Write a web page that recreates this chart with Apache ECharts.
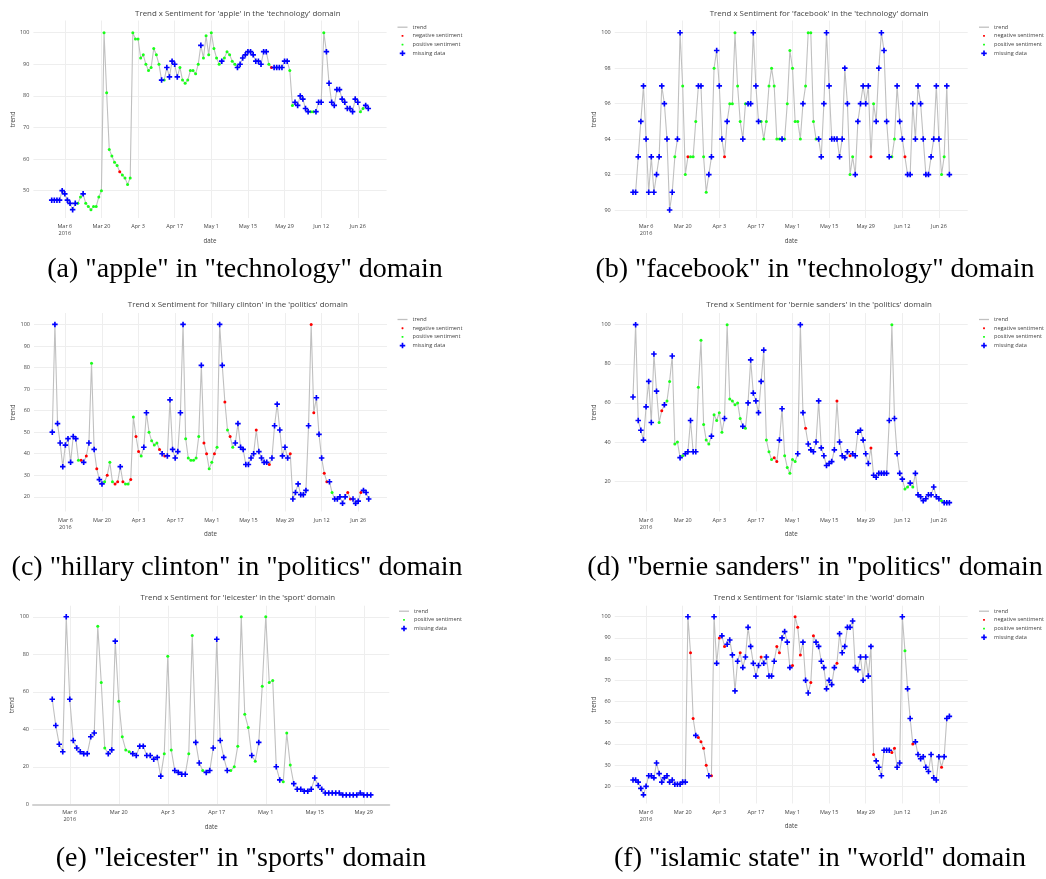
<!DOCTYPE html>
<html>
<head>
<meta charset="utf-8">
<script src="https://cdn.jsdelivr.net/npm/echarts@6/dist/echarts.min.js"></script>
<style>
  html, body { margin: 0; background: #fff; }
  #chart { width: 1046px; height: 879px; }
</style>
</head>
<body>
<div id="chart"></div>
<script>
// daily values, 1 Mar 2016 onwards; x is counted in days from 6 Mar 2016
const firstDay = -5;
const MONTHS = ['Jan', 'Feb', 'Mar', 'Apr', 'May', 'Jun', 'Jul'];

// b = missing data, g = positive sentiment, r = negative sentiment
const appleTrend = [47,47,47,47,50,49,47,46,44,46, 46,48,49,46,45,44,45,45,48,50,
  100,81,63,61,59,58,56,55,54,52, 54,100,98,98,92,93,90,88,89,95, 93,90,85,85,89,86,91,90,86,89,
  85,84,85,88,88,87,90,96,92,99, 93,100,95,92,90,91,92,94,93,91, 90,89,90,92,93,94,94,93,91,91,
  90,94,94,90,89,89,89,89,89,91, 91,88,77,78,77,80,79,76,75,75, 75,75,78,78,100,94,84,78,77,82,
  82,79,78,76,76,75,79,78,75,76, 77,76];
const appleMood = ['bbbbbbbbbb','ggbggggggg','ggggggrggg','gggggggggg','ggbgbbbbbg','gggggggbgg',
  'gggggbgggg','gbbbbbbbbb','bbbgrbbbbb','bggbbbbbbg','gbbbgbbbbb','bbbbbbbbgg','bb'].join('');

const facebookTrend = [91,91,93,95,97,94,91,93,91,92, 93,97,96,94,90,91,93,94,100,97,
  92,93,93,93,95,97,97,93,91,92, 93,98,99,97,94,93,95,96,96,100, 97,95,94,96,96,96,100,97,95,95,
  94,95,97,98,97,94,94,94,94,96, 99,98,95,95,94,96,97,100,100,95, 94,94,93,96,100,97,94,94,94,93,
  94,98,96,92,93,92,95,96,97,96, 97,93,96,95,98,100,99,95,93,93, 94,97,95,94,93,92,92,96,94,97,
  96,94,92,92,93,94,97,94,92,93, 97,92];
const facebookMood = ['bbbbbbbbbb','bbbbbbgbbg','grgggbbggb','bgbbbrbggg','ggbgbbbbbg','gggggggbgg',
  'gggggbgggg','gbbbbbbbbb','bbbggbbbbb','brgbbbbbbg','gbbbrbbbbb','bbbbbbbbgg','bb'].join('');

const hillaryTrend = [50,100,54,45,34,44,47,36,48,47, 37,37,36,39,45,82,42,33,28,26,
  27,30,36,27,26,27,34,27,26,26, 28,57,48,41,39,43,59,50,46,44, 45,42,40,39,39,65,42,38,41,59,
  100,47,38,37,37,38,48,81,45,40, 33,36,40,43,100,81,64,51,48,43, 45,54,43,42,35,35,38,40,51,41,
  38,36,36,35,38,53,63,51,39,43, 38,40,19,22,26,21,21,23,53,100, 59,66,49,38,31,27,27,22,19,19,
  20,17,20,22,19,19,17,18,22,23, 22,19];
const hillaryMood = ['bbbbbbbbbb','grbrbgbrbb','grggrrbrgg','rgrrgbbggg','grbrbbbbbb','bggggggbrr',
  'ggrgbbrgrg','bbbbbbbbrb','bbbrbbbbbb','brbbbbbbbr','rbbbrrbgbb','bbbrrbbbrb','bb'].join('');

const bernieTrend = [63,100,51,46,41,58,71,50,85,66, 50,56,59,61,71,84,39,40,32,33,
  34,35,51,35,35,68,92,49,41,39, 43,54,51,55,45,52,100,62,61,59, 60,52,48,47,60,82,65,61,55,71,
  87,41,35,31,32,30,41,57,33,27, 24,31,30,34,100,55,47,39,36,35, 40,61,37,33,28,29,30,36,61,40,
  33,32,35,33,34,33,45,46,41,34, 29,37,23,22,24,24,24,24,51,100, 52,34,24,21,16,17,19,17,24,13,
  12,10,11,13,13,17,12,11,10,9, 9,9];
const bernieMood = ['bbbbbbbbbb','grbggbggbg','bbbbbggggg','bggggbgggg','ggbgbbbbbb','bgggrrbbgg',
  'gggbbbrbbb','bbbbbbbbrb','bbbrbbbbbb','brbbbbbbbg','bbbbggbgbb','bbbbbbbbgb','bb'].join('');

const leicesterTrend = [56,42,32,28,100,56,34,30,28,27, 27,36,38,95,65,30,27,29,87,55,
  36,29,28,27,26,31,31,26,26,24, 25,15,27,79,29,18,17,16,16,27, 90,33,22,18,17,18,30,88,34,25,
  18,18,20,31,100,48,41,26,23,33, 63,100,65,66,20,13,12,38,21,11, 8,8,7,7,8,14,10,8,6,6,
  6,6,6,5,5,5,5,5,6,5, 5,5];
const leicesterMood = ['bbbbbbbbbb','bbbgggbbbg','gggbbbbbbb','bbgggbbbbg','gbbgbbbbbb','bggggggbgb',
  'ggggbbgggb','bbbbbbbbbb','bbbbbbbbbb','bb'].join('');

const islamicTrend = [23,23,22,19,16,20,25,25,24,31, 26,22,24,25,22,23,21,21,21,22,
  22,100,83,52,44,43,41,38,30,25, 25,100,78,90,91,86,87,89,82,65, 79,83,76,81,95,86,78,72,77,81,
  78,81,72,72,79,86,83,90,93,88, 76,77,100,95,82,88,70,64,69,91, 88,86,79,76,66,70,68,76,78,92,
  83,86,95,95,98,76,75,81,70,81, 72,86,35,32,29,25,37,37,37,36, 38,29,31,100,84,66,52,40,41,35,
  33,34,29,27,35,24,23,34,29,34, 52,53];
const islamicMood = ['bbbbbbbbbb','bbbbbbbbbb','bbrrbrrrrb','rbbrbrbbbb','brbbbbbbbr','bbbbbrrbbb',
  'brrrrbbbrr','bbbbbbbbrb','bbbbbbbbbb','bbrbbbbbbr','rbbbgbbrbb','bbbbbbbbrb','bb'].join('');

const panels = [
  { trend: appleTrend, mood: appleMood, term: 'apple', domain: 'technology',
    caption: '(a) "apple" in "technology" domain',
    box: [33.4, 20.5, 353.2, 197.5], xr: [-12, 123], yr: [41.36, 103.86], step: 10,
    head: [237.8, 13.3], cap: [245, 270], leg: [397.5, 24.2], negative: true },
  { trend: facebookTrend, mood: facebookMood, term: 'facebook', domain: 'technology',
    caption: '(b) "facebook" in "technology" domain',
    box: [614.7, 20.5, 353, 197.5], xr: [-12, 123], yr: [89.55, 100.69], step: 2,
    head: [819, 13.3], cap: [815, 270], leg: [979, 24.2], negative: true },
  { trend: hillaryTrend, mood: hillaryMood, term: 'hillary clinton', domain: 'politics',
    caption: '(c) "hillary clinton" in "politics" domain',
    box: [34, 313, 353, 198.5], xr: [-12, 123], yr: [13.2, 105.3], step: 10,
    head: [237.8, 305], cap: [237, 568], leg: [397.5, 316.5], negative: true },
  { trend: bernieTrend, mood: bernieMood, term: 'bernie sanders', domain: 'politics',
    caption: '(d) "bernie sanders" in "politics" domain',
    box: [614.7, 313, 353, 198.5], xr: [-12, 123], yr: [4.47, 105.97], step: 20,
    head: [819, 305], cap: [815, 568], leg: [979, 316.5], negative: true },
  { trend: leicesterTrend, mood: leicesterMood, term: 'leicester', domain: 'sport',
    caption: '(e) "leicester" in "sports" domain',
    box: [33, 605.7, 356.3, 198.6], xr: [-10.5, 91.3], yr: [0, 105.9], step: 20,
    head: [237.8, 597.3], cap: [241, 859], leg: [399, 608.2], negative: false, zeroLine: true },
  { trend: islamicTrend, mood: islamicMood, term: 'islamic state', domain: 'world',
    caption: '(f) "islamic state" in "world" domain',
    box: [614.7, 605.7, 353, 197.8], xr: [-12, 123], yr: [11.9, 105.2], step: 10,
    head: [819, 597.3], cap: [820, 859], leg: [979, 608.2], negative: true }
];

const PLUS = 'path://M3.5,0h3v3.5h3.5v3h-3.5v3.5h-3v-3.5h-3.5v-3h3.5z';
const DOT = 'path://M0,0M10,10M4,3.3L6,3.3L6.7,4L6.7,6L6,6.7L4,6.7L3.3,6L3.3,4Z';
const BAR = 'path://M0,0h10v1.3h-10z';
const kinds = [
  { code: 'r', name: 'negative sentiment', color: '#ff0000', symbol: 'circle', size: 3, icon: DOT },
  { code: 'g', name: 'positive sentiment', color: '#19ff19', symbol: 'circle', size: 3, icon: DOT },
  { code: 'b', name: 'missing data', color: '#0000ff', symbol: PLUS, size: 5.5, icon: PLUS }
];

const tickFont = { fontFamily: 'Open Sans', fontSize: 5.5, color: '#444' };

function dayLabel(v) {
  const d = new Date(Date.UTC(2016, 2, 6 + v));
  const s = MONTHS[d.getUTCMonth()] + ' ' + d.getUTCDate();
  return v === 0 ? s + '\n2016' : s;
}

const option = {
  animation: false,
  backgroundColor: '#fff',
  title: [], grid: [], xAxis: [], yAxis: [], legend: [], series: []
};

panels.forEach((p, k) => {
  option.title.push({
    text: `Trend x Sentiment for '${p.term}' in the '${p.domain}' domain`,
    left: p.head[0], top: p.head[1], textAlign: 'center', textVerticalAlign: 'middle', padding: 0,
    textStyle: { fontFamily: 'Open Sans', fontSize: 7.9, fontWeight: 'normal', color: '#444' }
  });
  option.title.push({
    text: p.caption,
    left: p.cap[0], top: p.cap[1], textAlign: 'center', textVerticalAlign: 'middle', padding: 0,
    textStyle: { fontFamily: 'Liberation Serif', fontSize: 28, fontWeight: 'normal', color: '#000' }
  });

  option.grid.push({ left: p.box[0], top: p.box[1], width: p.box[2], height: p.box[3] });

  option.xAxis.push({
    type: 'value', gridIndex: k, min: p.xr[0], max: p.xr[1], minInterval: 14, maxInterval: 14,
    name: 'date', nameLocation: 'middle', nameGap: 17,
    nameTextStyle: { fontFamily: 'Open Sans', fontSize: 6.2, color: '#444' },
    axisLine: { show: !!p.zeroLine, lineStyle: { color: '#d2d2d2', width: 2 } },
    axisTick: { show: false },
    axisLabel: Object.assign({ margin: 5, lineHeight: 7, showMinLabel: false, showMaxLabel: false,
      formatter: dayLabel }, tickFont),
    splitLine: { show: true, showMinLine: false, showMaxLine: false, lineStyle: { color: '#eeeeee', width: 1 } }
  });

  option.yAxis.push({
    type: 'value', gridIndex: k, min: p.yr[0], max: p.yr[1], minInterval: p.step, maxInterval: p.step,
    name: 'trend', nameLocation: 'middle', nameRotate: 90, nameGap: 16,
    nameTextStyle: { fontFamily: 'Open Sans', fontSize: 6.2, color: '#444' },
    axisLine: { show: false }, axisTick: { show: false },
    axisLabel: Object.assign({ margin: 4, showMinLabel: !!p.zeroLine, showMaxLabel: false }, tickFont),
    splitLine: { show: true, showMinLine: false, showMaxLine: false, lineStyle: { color: '#eeeeee', width: 1 } }
  });

  const shown = kinds.filter(t => p.negative || t.code !== 'r');
  option.legend.push({
    left: p.leg[0], top: p.leg[1], orient: 'vertical', padding: 0,
    itemWidth: 10, itemHeight: 5.5, itemGap: 2.7, selectedMode: false,
    textStyle: { fontFamily: 'Open Sans', fontSize: 5.6, color: '#444' },
    data: [{ name: 'trend', icon: BAR }].concat(shown.map(t => ({ name: t.name, icon: t.icon })))
  });

  const pts = p.trend.map((v, i) => [firstDay + i, v]);
  option.series.push({
    name: 'trend', type: 'line', xAxisIndex: k, yAxisIndex: k, data: pts,
    symbol: 'none', lineStyle: { color: '#c0c0c0', width: 1.1 }, itemStyle: { color: '#c0c0c0' }, z: 2
  });
  shown.forEach(t => {
    option.series.push({
      name: t.name, type: 'scatter', xAxisIndex: k, yAxisIndex: k,
      data: pts.filter((_, i) => p.mood[i] === t.code),
      symbol: t.symbol, symbolSize: t.size, itemStyle: { color: t.color, opacity: 1 }, z: 3
    });
  });
});

const chart = echarts.init(document.getElementById('chart'));
chart.setOption(option);
</script>
</body>
</html>
